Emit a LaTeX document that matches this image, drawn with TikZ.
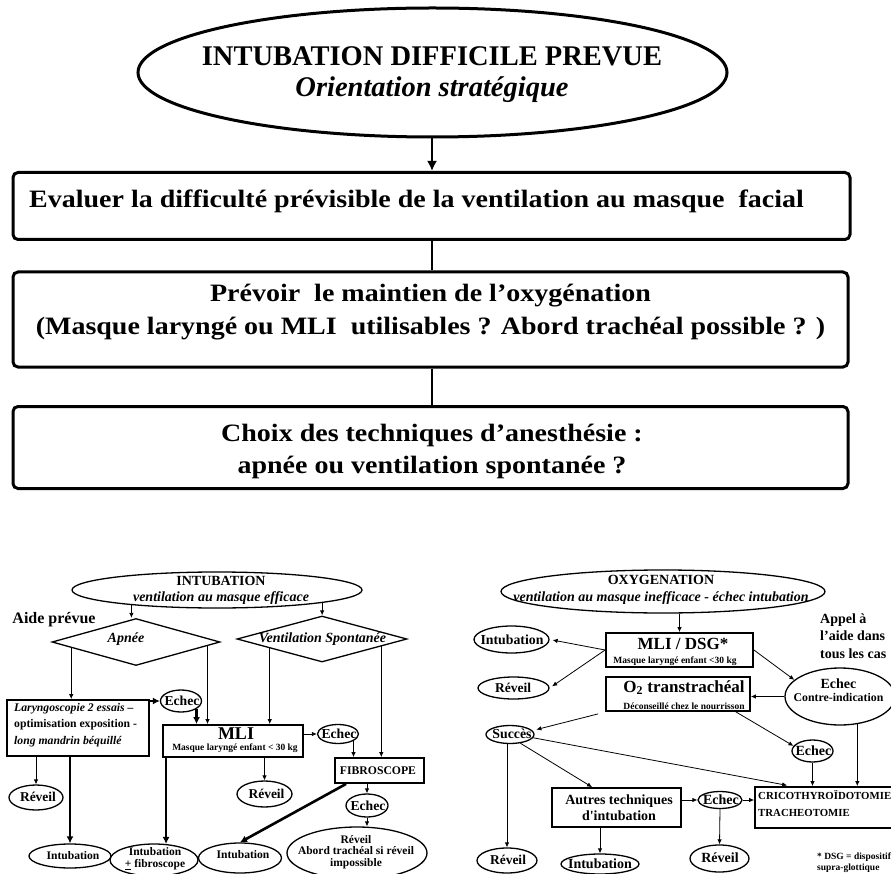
\documentclass[tikz,border=0pt]{standalone}
\usepackage{fontspec}
\setmainfont{Liberation Serif}
\newfontfamily\widefont[FakeStretch=1.12]{Liberation Serif}
\usetikzlibrary{shapes.geometric,arrows.meta}
\newcommand\fs[2]{\fontsize{#1}{#2}\selectfont}
\begin{document}
\begin{tikzpicture}[x=1pt,y=-1pt,
  every node/.style={inner sep=0pt},
  f/.style 2 args={font=\bfseries\fs{#1}{#2}},
  wf/.style 2 args={font=\widefont\bfseries\fs{#1}{#2}},
  bigbox/.style={draw, line width=3pt, rounded corners=5pt},
  sbox/.style={draw, line width=1.8pt},
  oval/.style={ellipse, draw, line width=1.3pt},
  dia/.style={diamond, draw, line width=1.3pt},
  arr/.style={line width=0.8pt, -{Latex[length=5pt,width=4.5pt]}},
  tarr/.style={line width=2.6pt, -{Latex[length=7pt,width=7pt]}},
  plain/.style={line width=2.6pt},
]
\fill[white] (0,0) rectangle (891,874);
\useasboundingbox (0,0) rectangle (891,874);
\coordinate (cx) at (432,0);

% ---------- top part ----------
\node[oval, line width=3pt, minimum width=589pt, minimum height=129pt] (top) at (432.5,72.5) {};
\node[f={28.5}{31}, align=center] (ttop) at (432,75) {INTUBATION DIFFICILE PREVUE\\\textit{Orientation stratégique}};
\node[bigbox, minimum width=837pt, minimum height=67pt] (b1) at (431.5,206) {};
\node[wf={25}{30}, anchor=base west] (tb1) at (29,208) {Evaluer la difficulté prévisible de la ventilation au masque~ facial};
\node[bigbox, minimum width=835pt, minimum height=95pt] (b2) at (430.5,319.5) {};
\node[wf={25}{33}, align=center] (tb2) at (430.5,312) {Prévoir~ le maintien de l’oxygénation\\(Masque laryngé ou MLI~ utilisables ? Abord trachéal possible ? )};
\node[bigbox, minimum width=835pt, minimum height=82pt] (b3) at (430.5,447.5) {};
\node[wf={25}{32}, align=center] (tb3) at (432,451) {Choix des techniques d’anesthésie :\\apnée ou ventilation spontanée ?};

\draw[line width=2.5pt, -{Latex[length=10pt,width=10pt]}] (top.south -| cx) -- (b1.north -| cx);
\draw[plain] (b1.south -| cx) -- (b2.north -| cx);
\draw[plain] (b2.south -| cx) -- (b3.north -| cx);

% ---------- lower left ----------
\node[oval, minimum width=290pt, minimum height=36pt] (ellL) at (217,590) {};
\node[f={14}{16}, align=center] (tellL) at (221,590) {INTUBATION\\\textit{ventilation au masque efficace}};
\node[f={16}{18}] (aide) at (54,620) {Aide prévue};
\node[dia, minimum width=168pt, minimum height=47pt] (apnee) at (136,642) {};
\node[f={14}{16}] (tapnee) at (126,639) {\textit{Apnée}};
\node[dia, minimum width=170pt, minimum height=46pt] (vsp) at (322,639) {};
\node[f={14}{16}] (tvsp) at (322.5,639) {\textit{Ventilation Spontanée}};
\node[sbox, minimum width=142pt, minimum height=56pt] (laryn) at (78,728) {};
\node[f={11.7}{16.5}, align=left, anchor=west] (tlaryn) at (14,725) {\textit{Laryngoscopie 2 essais –}\\optimisation exposition -\\\textit{long mandrin béquillé}};
\node[oval, minimum width=41pt, minimum height=22pt] (ech1) at (181,701) {};
\node[f={13.7}{15}] (tech1) at (182,701) {Echec};
\node[sbox, minimum width=140pt, minimum height=32pt] (mli) at (233,741) {};
\node[f={18}{20}] (tmli) at (236,733.5) {MLI};
\node[f={9.5}{11}] (tmli2) at (235,748) {Masque laryngé enfant < 30 kg};
\node[oval, minimum width=41pt, minimum height=19pt] (ech2) at (338,734) {};
\node[f={13.7}{15}] (tech2) at (339,734) {Echec};
\node[sbox, minimum width=89pt, minimum height=25pt] (fibro) at (379.5,770.5) {};
\node[f={11.7}{13}] (tfibro) at (378,770.5) {FIBROSCOPE};
\node[oval, minimum width=42pt, minimum height=23pt] (ech3) at (367,805.5) {};
\node[f={13.7}{15}] (tech3) at (368,805.5) {Echec};
\node[oval, minimum width=140pt, minimum height=52pt] (abord) at (357,853) {};
\node[f={11.5}{11.5}, align=center] (tabord) at (356,852) {Réveil\\Abord trachéal si réveil\\impossible};
\node[oval, minimum width=83pt, minimum height=30pt] (in3) at (240,858) {};
\node[f={11.6}{13}] (tin3) at (243,855) {Intubation};
\node[oval, minimum width=88pt, minimum height=32pt] (in2) at (154,860) {};
\node[f={11.5}{12}, align=center] (tin2) at (155,859) {Intubation\\\underline{+} fibroscope};
\node[oval, minimum width=82pt, minimum height=24pt] (in1) at (70,856) {};
\node[f={11.6}{13}] (tin1) at (73,856) {Intubation};
\node[oval, minimum width=54pt, minimum height=25pt] (rv1) at (36,797.5) {};
\node[f={13.5}{15}] (trv1) at (38,797) {Réveil};
\node[oval, minimum width=55pt, minimum height=26pt] (rv2) at (264.5,794) {};
\node[f={13.5}{15}] (trv2) at (266.5,794) {Réveil};

\draw[arr] (ellL.190) -- (ellL.190 |- apnee.north);
\draw[arr] (ellL.-7) -- (ellL.-7 |- vsp.north);
\draw[arr] (apnee.185) -- (apnee.185 |- laryn.north);
\draw[arr] (apnee.-3) -- (apnee.-3 |- mli.north);
\draw[arr] (vsp.190) -- (vsp.190 |- mli.north);
\draw[arr] (vsp.-7) -- (vsp.-7 |- fibro.north);
\draw[tarr] (ech1.west -| laryn.east) -- (ech1.west);
\draw[tarr] (ech1.-27) -- (ech1.-27 |- mli.north);
\draw[arr] (ech2.west -| mli.east) -- (ech2.west);
\draw[arr] (ech2.-24) -- (ech2.-24 |- fibro.north);
\draw[arr] (ech3.north |- fibro.south) -- (ech3.north);
\draw[arr] (ech3.south) -- (ech3.south |- abord.north);
\draw[tarr] ([xshift=12pt]fibro.south west) -- (in3.north);
\draw[tarr] (in1.north |- laryn.south) -- (in1.north);
\draw[arr] (rv1.north |- laryn.south) -- (rv1.north);
\draw[tarr] (in2.53 |- mli.south) -- (in2.53);
\draw[arr] (rv2.north |- mli.south) -- (rv2.north);

% ---------- lower right ----------
\node[oval, minimum width=324pt, minimum height=43pt] (oxy) at (663,591.5) {};
\node[f={14}{17}, align=center] (toxy) at (661,590) {OXYGENATION\\\textit{ventilation au masque inefficace - échec intubation}};
\node[sbox, minimum width=147pt, minimum height=34pt] (mlid) at (679.5,650) {};
\node[f={17}{19}] (tmlid) at (683,643.5) {MLI / DSG*};
\node[f={9.5}{11}] (tmlid2) at (675,661) {Masque laryngé enfant <30 kg};
\node[oval, minimum width=75pt, minimum height=27pt] (inR) at (511.5,639.5) {};
\node[f={13.8}{15}] (tinR) at (512,640) {Intubation};
\node[oval, minimum width=71pt, minimum height=22pt] (rvR) at (513.5,688) {};
\node[f={13.5}{15}] (trvR) at (513,688) {Réveil};
\node[oval, minimum width=110pt, minimum height=57pt] (eCI) at (840,696.5) {};
\node[f={14}{13}, align=center] (teCI) at (838.5,690) {Echec\\\fs{11.8}{13}Contre-indication};
\node[f={14}{17.5}, align=left, anchor=west] (appel) at (820,636) {Appel à\\l’aide dans\\tous les cas};
\node[sbox, minimum width=144pt, minimum height=34pt] (o2) at (678,694) {};
\node[f={17}{19}] (to2) at (684,687.5) {O\textsubscript{2} transtrachéal};
\node[f={9.5}{11}] (to2b) at (684,706) {Déconseillé chez le nourrisson};
\node[oval, minimum width=41pt, minimum height=22pt] (ech4) at (812.5,751) {};
\node[f={14}{15}] (tech4) at (813.5,751) {Echec};
\node[oval, minimum width=48pt, minimum height=18pt] (succ) at (510,734.5) {};
\node[f={13.8}{15}] (tsucc) at (512,734) {Succès};
\node[sbox, minimum width=138pt, minimum height=41pt] (crico) at (824,807.5) {};
\node[f={10.8}{12}, anchor=west] (tcrico) at (758,795) {CRICOTHYROÏDOTOMIE};
\node[f={10.8}{12}, anchor=west] (ttrach) at (758,813) {TRACHEOTOMIE};
\node[sbox, minimum width=129pt, minimum height=39pt] (autres) at (616.5,807.5) {};
\node[f={14}{16}, align=center] (tautres) at (619,808) {Autres techniques\\d\textquotesingle intubation};
\node[oval, minimum width=44pt, minimum height=17pt] (ech5) at (720,800) {};
\node[f={14}{15}] (tech5) at (721,800) {Echec};
\node[oval, minimum width=59pt, minimum height=27pt] (rv5) at (719.5,858.5) {};
\node[f={14}{15}] (trv5) at (720,858) {Réveil};
\node[oval, minimum width=78pt, minimum height=20pt] (inB) at (600,864) {};
\node[f={14}{15}] (tinB) at (600,864) {Intubation};
\node[oval, minimum width=60pt, minimum height=25pt] (rvL) at (507,860.5) {};
\node[f={13.5}{15}] (trvL) at (508,860) {Réveil};
\node[f={9.5}{11}, align=left, anchor=west] (note) at (817,862.5) {* DSG = dispositif\\supra-glottique};

\draw[arr] (oxy.south -| mlid.north) -- (mlid.north);
\draw[arr, shorten >=3pt] (mlid.west) -- (inR.east);
\draw[arr, shorten >=3pt] (mlid.west) -- (rvR.east);
\draw[arr] (mlid.east) -- (eCI.160);
\draw[arr] (eCI.west) -- (eCI.west -| o2.east);
\draw[arr] ([xshift=-15pt]o2.south east) -- (ech4.165);
\draw[arr, shorten >=4pt] ([xshift=-7pt,yshift=-2pt]o2.south west) -- (succ.10);
\draw[arr, shorten >=4pt] (succ.-8) -- ([xshift=37pt]crico.north west);
\draw[arr] (succ.-40) -- ([xshift=41pt]autres.north west);
\draw[arr] (succ.south -| rvL.north) -- (rvL.north);
\draw[arr] (ech4.south) -- (ech4.south |- crico.north);
\draw[arr] (eCI.-58) -- (eCI.-58 |- crico.north);
\draw[arr] (ech5.west -| autres.east) -- (ech5.west);
\draw[arr] (ech5.east) -- (ech5.east -| crico.west);
\draw[arr] (ech5.south) -- (rv5.north);
\draw[arr] (inB.north |- autres.south) -- (inB.north);
\end{tikzpicture}
\end{document}
